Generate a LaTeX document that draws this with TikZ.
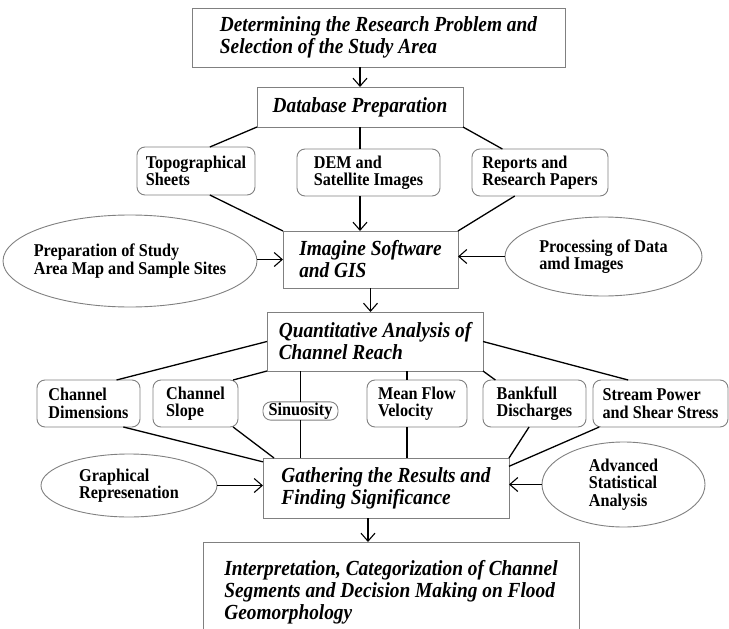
\documentclass[tikz,border=0pt]{standalone}
\usepackage{fontspec}
\setmainfont{Liberation Serif}[FakeStretch=0.9]
\usetikzlibrary{arrows.meta, positioning, shapes.geometric}

\newcommand{\bigboxfont}{\fontsize{21.5}{22}\selectfont\bfseries\itshape}
\newcommand{\smallboxfont}{\fontsize{18}{17.5}\selectfont\bfseries}

\begin{document}
\begin{tikzpicture}[
    x=1pt, y=1pt,
    every node/.style={
        draw=gray,
        line width=0.9pt,
        align=left,
        outer sep=0pt,
        inner sep=3pt
    },
    stepbox/.style={font=\bigboxfont},
    databox/.style={rounded corners=8pt, font=\smallboxfont},
    sidebox/.style={ellipse, font=\smallboxfont},
    link/.style={line width=1.3pt},
    arrow/.style={-{Straight Barb[length=8pt,width=14pt]}, line width=1.1pt}
]
\useasboundingbox (0,0) rectangle (729,-629);
\clip (0,0) rectangle (729,-629);

% ------------------------
% Problem and data
% ------------------------
\node[stepbox, minimum width=373pt, minimum height=59pt] (problem) at (378.5,-37.5) {
Determining the Research Problem and\\
Selection of the Study Area
};

\node[stepbox, minimum width=206pt, minimum height=40pt] (database)
    [below=20pt of problem, xshift=-18.5pt] {Database Preparation};

\node[databox, minimum width=143pt, minimum height=47pt] (dem)
    [below=22pt of database, xshift=8.5pt] {DEM and\\Satellite Images};

\node[databox, minimum width=118pt, minimum height=48pt] (topo)
    [left=42pt of dem, yshift=1.5pt] {Topographical\\Sheets};

\node[databox, minimum width=136pt, minimum height=47pt] (reports)
    [right=32pt of dem] {Reports and\\Research Papers};

% ------------------------
% Software step
% ------------------------
\node[stepbox, minimum width=175pt, minimum height=57pt] (software)
    [below=35pt of dem, xshift=2pt] {Imagine Software\\and GIS};

\node[sidebox, minimum width=254pt, minimum height=92pt, inner xsep=-15pt] (mapping)
    [left=26pt of software, yshift=-1.5pt] {Preparation of Study\\Area Map and Sample Sites};

\node[sidebox, minimum width=197pt, minimum height=79pt] (processing)
    [right=47pt of software, yshift=3pt] {Processing of Data\\amd Images};

% ------------------------
% Channel analysis
% ------------------------
\node[stepbox, minimum width=216pt, minimum height=59pt] (analysis)
    [below=24pt of software, xshift=4.5pt] {Quantitative Analysis of\\Channel Reach};

\node[databox, minimum width=103pt, minimum height=47pt] (dimensions)
    [below=9pt of analysis, xshift=-286.5pt] {Channel\\Dimensions};

\node[databox, minimum width=85pt, minimum height=47pt] (slope)
    [right=13pt of dimensions] {Channel\\Slope};

\node[databox, minimum width=75pt, minimum height=18pt, inner sep=1pt] (sinuosity)
    [right=25pt of slope, yshift=-7.5pt] {Sinuosity};

\node[databox, minimum width=100pt, minimum height=47pt] (velocity)
    [right=29pt of sinuosity, yshift=7.5pt] {Mean Flow\\Velocity};

\node[databox, minimum width=103pt, minimum height=47pt] (discharge)
    [right=16pt of velocity] {Bankfull\\Discharges};

\node[databox, minimum width=135pt, minimum height=47pt] (power)
    [right=7pt of discharge] {Stream Power\\and Shear Stress};

% ------------------------
% Results
% ------------------------
\node[stepbox, minimum width=246pt, minimum height=60pt] (results)
    [below=87pt of analysis, xshift=11pt] {Gathering the Results and\\Finding Significance};

\node[sidebox, minimum width=176pt, minimum height=63pt] (graphics)
    [left=46pt of results, yshift=2.5pt] {Graphical\\Represenation};

\node[sidebox, minimum width=163pt, minimum height=85pt] (statistics)
    [right=33pt of results, yshift=3.5pt] {Advanced\\Statistical\\Analysis};

\node[stepbox, minimum width=376pt, minimum height=100pt] (decision)
    [below=24pt of results, xshift=5pt] {
Interpretation, Categorization of Channel\\
Segments and Decision Making on Flood\\
Geomorphology
};

% ------------------------
% Arrows
% ------------------------
\draw[arrow] (database.north |- problem.south) -- (database.north);
\draw[link] (database.south west) -- (topo.60);
\draw[link] (database.south) -- (database.south |- dem.north);
\draw[link] (database.south east) -- (reports.148);
\draw[link] (topo.300) -- (software.north west);
\draw[arrow] (database.south |- dem.south) -- (database.south |- software.north);
\draw[link] (reports.223) -- (software.north east);
\draw[arrow] (mapping.east |- software.west) -- (software.west);
\draw[arrow] (processing.west) -- (processing.west -| software.east);
\draw[arrow] (software.south) -- (software.south |- analysis.north);

\draw[link] (analysis.west) -- (dimensions.40);
\draw[link] (analysis.south west) -- (slope.32);
\draw[link] (sinuosity.north |- analysis.south) -- (sinuosity.north);
\draw[link] (velocity.113 |- analysis.south) -- (velocity.113);
\draw[link] (analysis.south east) -- (discharge.149);
\draw[link] (analysis.east) -- (power.144);

\draw[link] (dimensions.326) -- (results.168);
\draw[link] (slope.328) -- (results.165);
\draw[link] (sinuosity.south) -- (sinuosity.south |- results.north);
\draw[link] (velocity.247) -- (velocity.247 |- results.north);
\draw[link] (discharge.257) -- (results.north east);
\draw[link] (power.201) -- (results.10);
\draw[arrow] (graphics.east) -- (graphics.east -| results.west);
\draw[arrow] (statistics.west) -- (statistics.west -| results.east);
\draw[arrow] (results.239) -- (results.239 |- decision.north);

\end{tikzpicture}
\end{document}
